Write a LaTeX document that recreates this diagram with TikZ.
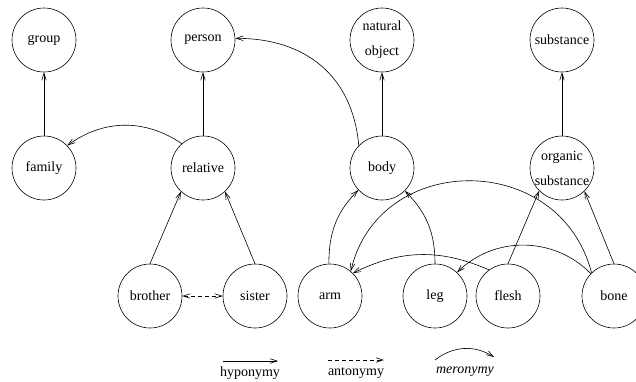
\documentclass[tikz,border=0pt]{standalone}
\usepackage{fontspec}
\setmainfont{Liberation Serif}
\usetikzlibrary{arrows.meta}
\begin{document}
\begin{tikzpicture}[x=1pt,y=-1pt,
  concept/.style={draw, circle, line width=0.6pt, minimum size=64pt, inner sep=-12pt,
    align=center, font=\fontsize{14}{25}\selectfont},
  rel/.style={line width=0.6pt, -{Straight Barb[length=7pt,width=4.5pt]}},
  anto/.style={line width=0.6pt, dashed, dash pattern=on 4pt off 3pt,
    {Straight Barb[length=7pt,width=4.5pt]}-{Straight Barb[length=7pt,width=4.5pt]}},
  legendtext/.style={font=\fontsize{14}{16}\selectfont, inner sep=0pt}]
\useasboundingbox (0,0) rectangle (636,381);
\fill[white] (0,0) rectangle (636,381);
\begin{scope}
\clip (0,0) rectangle (636,381);
% nodes
\node[concept] (group) at (44,40) {group};
\node[concept] (person) at (203,40) {person};
\node[concept] (natobj) at (382,40) {natural\\object};
\node[concept] (subst) at (562,40) {substance};
\node[concept] (family) at (44,168) {family};
\node[concept] (relative) at (203,168) {relative};
\node[concept] (body) at (382,168) {body};
\node[concept] (orgsub) at (562,168) {organic\\substance};
\node[concept] (brother) at (150,296) {brother};
\node[concept] (sister) at (255,296) {sister};
\node[concept] (arm) at (330,296) {arm};
\node[concept] (leg) at (435,296) {leg};
\node[concept] (flesh) at (508,296) {flesh};
\node[concept] (bone) at (614,296) {bone};
% hyponymy
\draw[rel] (family.north) -- (group.south);
\draw[rel] (relative.north) -- (person.south);
\draw[rel] (body.north) -- (natobj.south);
\draw[rel] (orgsub.north) -- (subst.south);
\draw[rel] (brother.north) -- (relative.227);
\draw[rel] (sister.north) -- (relative.-47);
\draw[rel] (flesh.north) -- (orgsub.225);
\draw[rel] (bone.north) -- (orgsub.-46);
% antonymy
\draw[anto] (brother.east) -- (sister.west);
% meronymy
\draw[rel] (relative.131) to[bend right=35] (family.44);
\draw[rel] (body.136) to[out=95,in=0,looseness=1.1] (person.3);
\draw[rel] (arm.92) to[out=90,in=225] (body.223);
\draw[rel] (leg.90) to[out=90,in=-45] (body.-45);
\draw[rel] (bone.134) .. controls +(-32,-123) and +(28,-120) .. (arm.50);
\draw[rel] (flesh.126) to[bend right=25] (arm.45);
\draw[rel] (bone.136) to[bend right=45] (leg.47);
\end{scope}
% legend
\coordinate (h1) at (223,361); \coordinate (h2) at (278,361);
\coordinate (a1) at (328,360); \coordinate (a2) at (384,360);
\coordinate (m1) at (435,360); \coordinate (m2) at (494,357);
\draw[rel] (h1) -- (h2);
\draw[rel, dashed, dash pattern=on 4pt off 3pt] (a1) -- (a2);
\draw[rel] (m1) to[bend left=35] (m2);
\node[legendtext] (hyp) at (250,373) {hyponymy};
\node[legendtext] (ant) at (356,373) {antonymy};
\node[legendtext] (mer) at (465,372) {\itshape meronymy};
\end{tikzpicture}
\end{document}
